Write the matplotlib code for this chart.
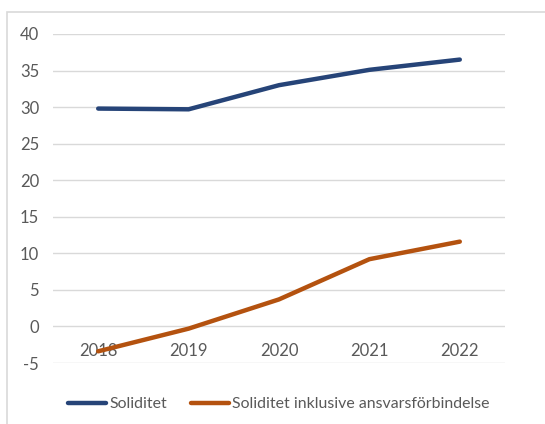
import matplotlib.pyplot as plt
from matplotlib.patches import Rectangle

years = ['2018', '2019', '2020', '2021', '2022']
soliditet = [29.8, 29.7, 33.0, 35.1, 36.5]
soliditet_inkl = [-3.4, -0.3, 3.7, 9.2, 11.6]
y_ticks = [-5, 0, 5, 10, 15, 20, 25, 30, 35, 40]

plt.rcParams['font.family'] = ['Lato', 'DejaVu Sans']

fig = plt.figure(figsize=(5.45, 4.24), dpi=100)
# light grey frame around the chart area
fig.patches.append(Rectangle((7 / 545, -0.1), 1.2, 1 - 12 / 424 + 0.1,
                             transform=fig.transFigure, fill=False,
                             edgecolor='#d9d9d9', linewidth=1.2))

ax = fig.add_axes([53 / 545, 1 - 363 / 424, 452 / 545, 329 / 424])

x = list(range(len(years)))
ax.plot(x, soliditet, color='#264478', linewidth=3.2, solid_capstyle='round',
        label='Soliditet')
ax.plot(x, soliditet_inkl, color='#B4520F', linewidth=3.2, solid_capstyle='round',
        label='Soliditet inklusive ansvarsförbindelse')

ax.set_xlim(-0.5, len(years) - 0.5)
ax.set_ylim(-5, 40)
ax.set_yticks(y_ticks)
ax.set_yticklabels([str(t) for t in y_ticks])
ax.grid(axis='y', color='#d9d9d9', linewidth=1)
ax.set_axisbelow(True)
for s in ax.spines.values():
    s.set_visible(False)
ax.tick_params(axis='y', length=0, pad=10, labelsize=12, labelcolor='#595959')
ax.set_xticks([])

# category labels sit just below the zero line
for i, yr in enumerate(years):
    ax.text(i, -3.4, yr, ha='center', va='center', fontsize=12, color='#595959',
            zorder=1)

ax.legend(loc='upper center', bbox_to_anchor=(0.5, -0.06), ncol=2, frameon=False,
          fontsize=11.4, labelcolor='#595959', handlelength=2.4, handletextpad=0.2,
          columnspacing=1.5)

fig.savefig('out.png', dpi=100)
